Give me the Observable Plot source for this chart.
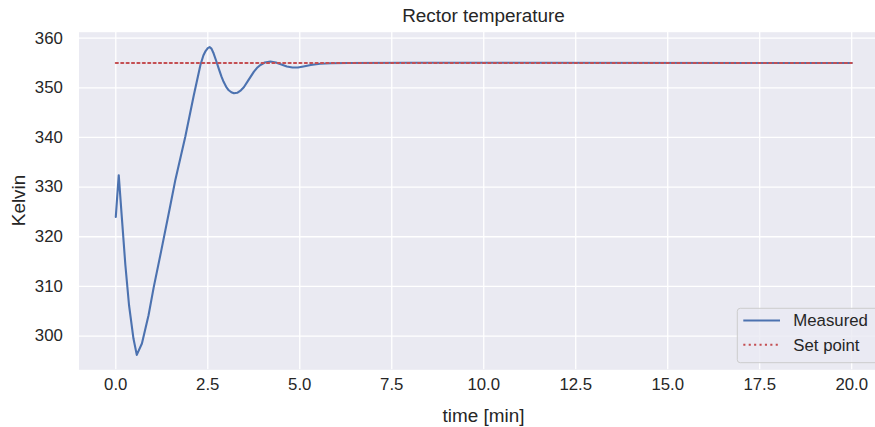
<!DOCTYPE html>
<html>
<head>
<meta charset="utf-8">
<script src="https://cdn.jsdelivr.net/npm/d3@7"></script>
<script src="https://cdn.jsdelivr.net/npm/@observablehq/plot@0.6"></script>
<style>
  html, body { margin: 0; padding: 0; overflow: hidden; background: white; }
  svg { display: block; max-width: none !important; }
</style>
</head>
<body>
<div id="chart"></div>
<script>
const time = [0, 0.08, 0.16, 0.26, 0.36, 0.48, 0.57, 0.71, 0.89, 1.03, 1.23, 1.46, 1.62, 1.89, 2.12, 2.30, 2.38, 2.44, 2.50, 2.55, 2.60, 2.66, 2.73, 2.80, 2.87, 2.93, 3.00, 3.07, 3.14, 3.21, 3.30, 3.40, 3.48, 3.60, 3.75, 3.85, 3.93, 4.05, 4.20, 4.35, 4.50, 4.65, 4.80, 4.95, 5.10, 5.30, 5.55, 5.85, 6.30, 8.0, 20.0];
const measured = [324.0, 332.4, 324.3, 314.3, 306.2, 299.5, 296.2, 298.5, 304.2, 309.8, 317.0, 325.5, 331.5, 340.2, 348.5, 354.6, 356.5, 357.4, 358.0, 358.2, 357.9, 356.9, 355.4, 353.8, 352.3, 351.2, 350.2, 349.5, 349.1, 348.9, 349.0, 349.5, 350.1, 351.5, 353.2, 354.1, 354.6, 355.1, 355.3, 355.1, 354.7, 354.3, 354.1, 354.1, 354.3, 354.6, 354.85, 354.95, 355.0, 355.05, 355.0];
const setTime = [0, 20];
const setValue = [355, 355];
const xTicks = [0, 2.5, 5, 7.5, 10, 12.5, 15, 17.5, 20];
const yTicks = [300, 310, 320, 330, 340, 350, 360];
const titleText = "Rector temperature";
const xLabel = "time [min]";
const yLabel = "Kelvin";
const seriesNames = ["Measured", "Set point"];

const font = "'Liberation Sans', Arial, 'DejaVu Sans', sans-serif";
const blue = "#4C72B0";
const red = "#C44E52";
const tickFont = 16.8;
const labelFont = 18.9;

const measuredData = time.map((t, i) => ({t, v: measured[i]}));
const setData = setTime.map((t, i) => ({t, v: setValue[i]}));

const chart = Plot.plot({
  width: 888,
  height: 427,
  marginLeft: 78.5,
  marginRight: 0,
  marginTop: 31.7,
  marginBottom: 57.7,
  x: {domain: [-1, 21]},
  y: {domain: [293.2, 361.2]},
  style: {fontFamily: font, fontSize: tickFont + "px", color: "#262626", background: "white"},
  marks: [
    Plot.frame({fill: "#EAEAF2", stroke: null}),
    Plot.gridX(xTicks, {stroke: "white", strokeOpacity: 1, strokeWidth: 1.3}),
    Plot.gridY(yTicks, {stroke: "white", strokeOpacity: 1, strokeWidth: 1.3}),
    Plot.axisX(xTicks, {tickSize: 0, tickPadding: 7.8, tickFormat: d => d.toFixed(1), label: null, fontSize: tickFont}),
    Plot.axisY(yTicks, {tickSize: 0, tickPadding: 16.2, tickFormat: d => String(d), label: null, fontSize: tickFont}),
    Plot.line(measuredData, {x: "t", y: "v", stroke: blue, strokeWidth: 2.1, strokeLinejoin: "round"}),
    Plot.line(setData, {x: "t", y: "v", stroke: red, strokeWidth: 2.1, strokeDasharray: "2.1,3.3"})
  ]
});
chart.style.maxWidth = "none";
chart.style.width = "888px";
chart.style.height = "427px";

const svg = d3.select(chart);
svg.append("text")
  .attr("x", 483.5).attr("y", 21.5)
  .attr("text-anchor", "middle")
  .style("font-family", font).style("font-size", labelFont + "px").attr("fill", "#262626")
  .text(titleText);
svg.append("text")
  .attr("x", 483.5).attr("y", 421.5)
  .attr("text-anchor", "middle")
  .style("font-family", font).style("font-size", labelFont + "px").attr("fill", "#262626")
  .text(xLabel);
svg.append("text")
  .attr("transform", "translate(25,200.5) rotate(-90)")
  .attr("text-anchor", "middle")
  .style("font-family", font).style("font-size", labelFont + "px").attr("fill", "#262626")
  .text(yLabel);

// legend
const lg = svg.append("g");
lg.append("rect")
  .attr("x", 737.3).attr("y", 308.3).attr("width", 142.7).attr("height", 54.4)
  .attr("rx", 3).attr("fill", "#EAEAF2").attr("fill-opacity", 0.8)
  .attr("stroke", "#CCCCCC").attr("stroke-width", 1);
lg.append("line").attr("x1", 743.3).attr("x2", 780).attr("y1", 320.5).attr("y2", 320.5)
  .attr("stroke", blue).attr("stroke-width", 2.1);
lg.append("line").attr("x1", 743.3).attr("x2", 780).attr("y1", 344.8).attr("y2", 344.8)
  .attr("stroke", red).attr("stroke-width", 2.1).attr("stroke-dasharray", "2.1,3.3");
lg.append("text").attr("x", 793.3).attr("y", 326.4).attr("text-anchor", "start")
  .style("font-family", font).style("font-size", tickFont + "px").attr("fill", "#262626")
  .text(seriesNames[0]);
lg.append("text").attr("x", 793.3).attr("y", 350.7).attr("text-anchor", "start")
  .style("font-family", font).style("font-size", tickFont + "px").attr("fill", "#262626")
  .text(seriesNames[1]);

document.getElementById("chart").appendChild(chart);
</script>
</body>
</html>
